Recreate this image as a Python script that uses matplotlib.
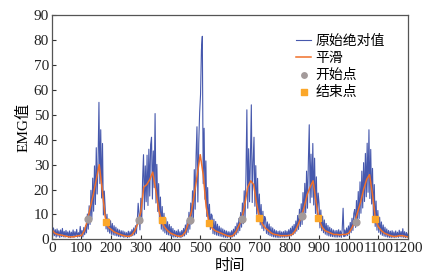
import numpy as np
import matplotlib
matplotlib.use("Agg")
from matplotlib import pyplot as plt

# raw |EMG|, one sample every 3 time units (0..1200)
raw_step = 3
raw_vals = [
    5.8, 1.2, 4.6, 1.5, 3.9, 0.9, 4.2, 1.3, 3.5, 0.8, 3.8, 1.1, 4.4, 1.0, 3.2, 0.9, 3.6, 1.2, 3.0, 0.8,
    3.4, 0.7, 2.9, 1.0, 3.8, 0.8, 3.1, 1.2, 4.0, 0.9, 2.7, 1.1, 5.2, 1.3, 3.6, 1.0, 4.8, 1.9, 5.5, 2.6,
    10.2, 4.1, 13.5, 6.0, 19.7, 8.1, 24.6, 11.3, 29.5, 14.0, 36.8, 18.2, 30.5, 55.0, 22.4, 44.0, 16.6, 38.5, 9.8, 19.4,
    12.5, 4.2, 10.1, 3.1, 8.2, 2.5, 7.5, 2.0, 6.4, 1.8, 5.5, 1.6, 4.9, 1.4, 4.2, 1.2, 3.8, 1.0, 3.5, 1.1,
    3.4, 0.8, 3.0, 1.0, 2.7, 0.7, 3.3, 0.9, 3.1, 1.2, 3.9, 1.5, 4.6, 1.8, 5.5, 2.4, 7.2, 14.5, 10.3, 3.8,
    16.5, 7.3, 24.1, 34.0, 12.0, 29.5, 15.1, 33.8, 13.6, 36.2, 17.4, 38.0, 41.0, 16.2, 35.5, 20.8, 50.5, 14.6, 30.1, 11.2,
    22.4, 6.5, 17.0, 4.1, 13.2, 3.3, 10.5, 2.6, 8.4, 2.0, 7.1, 1.8, 6.0, 1.5, 5.2, 1.2, 4.4, 0.9, 3.6, 1.0,
    3.3, 0.8, 3.9, 0.9, 3.1, 0.7, 3.6, 1.1, 4.4, 1.4, 5.8, 2.0, 7.6, 2.8, 10.9, 4.1, 14.6, 6.2, 19.5, 8.3,
    28.0, 12.1, 33.6, 45.2, 15.0, 38.5, 51.0, 58.0, 76.0, 81.5, 22.4, 44.6, 16.1, 31.5, 9.2, 20.8, 5.6, 14.1, 4.0, 10.2,
    9.6, 2.3, 8.1, 2.0, 7.2, 1.7, 6.1, 1.5, 5.3, 1.3, 4.6, 1.1, 4.2, 0.9, 3.7, 0.8, 3.4, 0.7, 3.1, 0.9,
    3.0, 0.7, 3.5, 1.0, 4.1, 1.3, 5.2, 1.9, 6.6, 2.6, 8.4, 3.5, 10.8, 4.9, 14.6, 6.3, 19.5, 8.8, 26.2, 52.0,
    12.5, 36.4, 15.1, 33.0, 54.0, 14.8, 31.2, 41.0, 13.3, 29.6, 10.1, 24.5, 7.6, 18.2, 5.8, 14.0, 4.4, 11.3, 3.5, 9.2,
    8.1, 2.4, 7.0, 1.9, 6.2, 1.5, 5.1, 1.2, 4.6, 1.0, 3.9, 0.9, 3.5, 0.8, 3.2, 0.7, 3.4, 0.8, 3.0, 0.9,
    3.1, 0.8, 3.5, 0.9, 3.3, 1.0, 3.9, 1.2, 4.5, 1.4, 5.3, 1.9, 6.0, 2.4, 7.4, 3.3, 9.6, 4.0, 12.1, 5.2,
    14.3, 6.0, 18.8, 8.2, 22.5, 10.6, 27.4, 12.5, 31.0, 46.0, 14.7, 34.2, 16.9, 38.5, 13.8, 32.6, 10.4, 25.1, 7.9, 18.6,
    14.5, 4.6, 11.8, 3.5, 9.3, 2.7, 7.8, 2.1, 6.4, 1.7, 5.6, 1.4, 4.9, 1.2, 4.3, 1.1, 3.8, 1.0, 3.5, 0.9,
    3.6, 0.9, 3.9, 1.0, 3.4, 0.8, 4.1, 12.5, 1.1, 3.8, 1.3, 4.6, 1.5, 5.4, 2.0, 6.8, 2.7, 8.5, 3.6, 10.4,
    12.0, 4.8, 15.6, 6.7, 19.2, 8.4, 23.1, 10.5, 27.4, 12.6, 30.8, 15.2, 34.5, 17.1, 38.6, 18.9, 44.0, 16.4, 36.1, 14.2,
    28.5, 9.1, 22.0, 5.2, 15.4, 3.7, 11.6, 2.8, 8.9, 2.1, 7.0, 1.6, 5.8, 1.3, 4.9, 1.1, 4.2, 0.9, 3.6, 0.8,
    3.3, 0.7, 3.5, 0.8, 3.0, 0.7, 3.4, 0.9, 2.9, 0.8, 3.7, 1.0, 3.2, 0.9, 4.3, 0.8, 3.1, 0.7, 2.8, 0.8,
    2.4,
]

# smoothed curve, every 10 time units
smooth_step = 10
smooth_vals = [
    4.0, 2.5, 2.0, 1.8, 1.5, 1.2, 1.0, 1.0, 1.2, 1.5, 1.5, 3.5, 7.5, 13, 18, 24, 30, 20, 9, 5,
    4.0, 3.0, 2.5, 2.0, 1.6, 1.3, 1.2, 1.8, 3.5, 6.5, 11, 21, 22, 24, 27, 20, 12, 7, 5, 3.5,
    2.5, 2.0, 1.5, 1.2, 1.5, 3.0, 6.5, 11, 18, 26, 34, 26, 13, 6.5, 4.5, 3.5, 3.0, 2.5, 2.0, 1.5,
    1.2, 1.5, 3.0, 5.5, 8, 14, 21, 23.5, 22, 14, 8.5, 6, 4.5, 3.5, 2.5, 2.0, 1.8, 1.5, 1.5, 1.5,
    1.6, 2.0, 3.5, 6, 9, 13, 18, 21, 23.5, 15, 8, 5, 3.5, 3.0, 2.5, 2.0, 2.0, 1.8, 2.0, 2.0,
    2.5, 4.5, 7, 11, 15, 20, 24, 26, 18, 8, 5, 3.5, 2.5, 2.0, 1.5, 1.2, 1.2, 1.5, 1.5, 1.2,
    1.0,
]

start_x = [121, 295, 466, 640, 842, 1025]
start_y = [8.2, 7.9, 7.6, 8.1, 9.2, 7.1]
end_x = [183, 370, 531, 699, 898, 1089]
end_y = [6.8, 7.6, 6.4, 8.4, 8.4, 8.1]

raw_t = np.arange(len(raw_vals)) * raw_step
smooth_t = np.arange(len(smooth_vals)) * smooth_step

plt.rcParams['font.family'] = ['Liberation Serif', 'Noto Sans CJK SC']
plt.rcParams['font.size'] = 11

fig = plt.figure(figsize=(4.31, 2.80), dpi=100)
ax = fig.add_axes([0.12, 0.145, 0.827, 0.801])

ax.plot(raw_t, raw_vals, color='#4658ad', lw=0.8, label='原始绝对值')
ax.plot(smooth_t, smooth_vals, color='#f0702a', lw=1.1, label='平滑')
ax.scatter(start_x, start_y, s=24, color='#a39a9a', marker='o', zorder=5, label='开始点')
ax.scatter(end_x, end_y, s=22, color='#fba72a', marker='s', zorder=5, label='结束点')

ax.set_xlim(0, 1200)
ax.set_ylim(0, 90)
ax.set_xticks(np.arange(0, 1201, 100))
ax.set_yticks(np.arange(0, 91, 10))
ax.tick_params(direction='in', length=3, width=0.8, colors='#333333', labelcolor='#222222', pad=2)
for s in ax.spines.values():
    s.set_color('#555555')
    s.set_linewidth(0.9)

ax.set_xlabel('时间', fontsize=11, labelpad=1, family=['Noto Sans CJK SC'])
ax.set_ylabel('EMG值', fontsize=11, labelpad=2)

leg = ax.legend(loc='upper right', bbox_to_anchor=(0.97, 0.97), frameon=False,
                handlelength=1.1, handletextpad=0.3, labelspacing=0.2,
                markerscale=0.8, prop={'family': ['Noto Sans CJK SC'], 'size': 10})

fig.savefig('out.png', dpi=100)
